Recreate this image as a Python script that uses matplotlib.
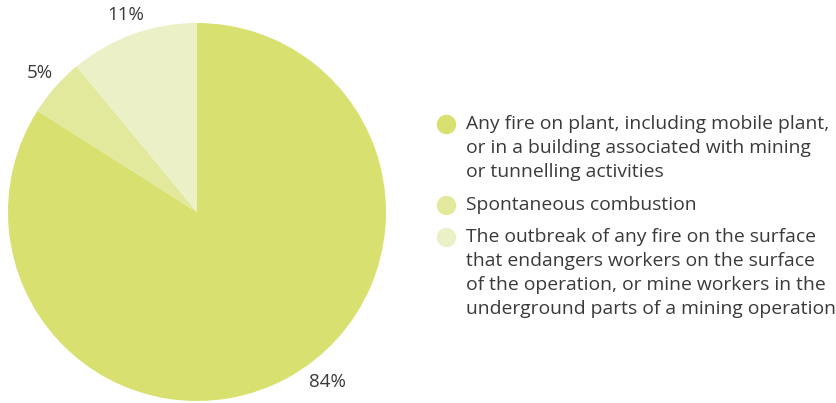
import matplotlib
matplotlib.use("Agg")
import matplotlib.pyplot as plt
import numpy as np

plt.rcParams['font.family'] = ['Open Sans', 'DejaVu Sans']

categories = [
    "Any fire on plant, including mobile plant,\nor in a building associated with mining\nor tunnelling activities",
    "Spontaneous combustion",
    "The outbreak of any fire on the surface\nthat endangers workers on the surface\nof the operation, or mine workers in the\nunderground parts of a mining operation",
]
shares = [84, 5, 11]
colors = ["#d8e06f", "#e2e89c", "#ebf0c7"]
text_color = "#3a3a3a"

W, H = 837, 403
fig = plt.figure(figsize=(W / 100, H / 100), dpi=100)

# pie occupies the left part of the figure
ax = fig.add_axes([8 / W, 2 / H, 378 / W, 378 / H])
wedges, texts, autotexts = ax.pie(
    shares, colors=colors, startangle=90, counterclock=False,
    autopct=lambda p: f"{p:.0f}%", pctdistance=1.11,
    wedgeprops=dict(linewidth=0),
    textprops=dict(color=text_color, fontsize=13.5),
)
ax.set_xlim(-1, 1)
ax.set_ylim(-1, 1)
ax.set_aspect("equal")
# nudge the large-slice label toward the lower right
autotexts[0].set_position((0.69, -0.90))

# legend drawn in pixel coordinates
lax = fig.add_axes([0, 0, 1, 1])
lax.set_xlim(0, W)
lax.set_ylim(H, 0)
lax.axis("off")
rows = [124, 205, 237]
line_step = 24
for y, c, lab in zip(rows, colors, categories):
    lax.plot(446, y, "o", ms=14, color=c, mec="none")
    for i, line in enumerate(lab.split("\n")):
        lax.text(466, y + i * line_step, line, color=text_color,
                 fontsize=13.9, va="center", ha="left")

fig.savefig("out.png", dpi=100)
